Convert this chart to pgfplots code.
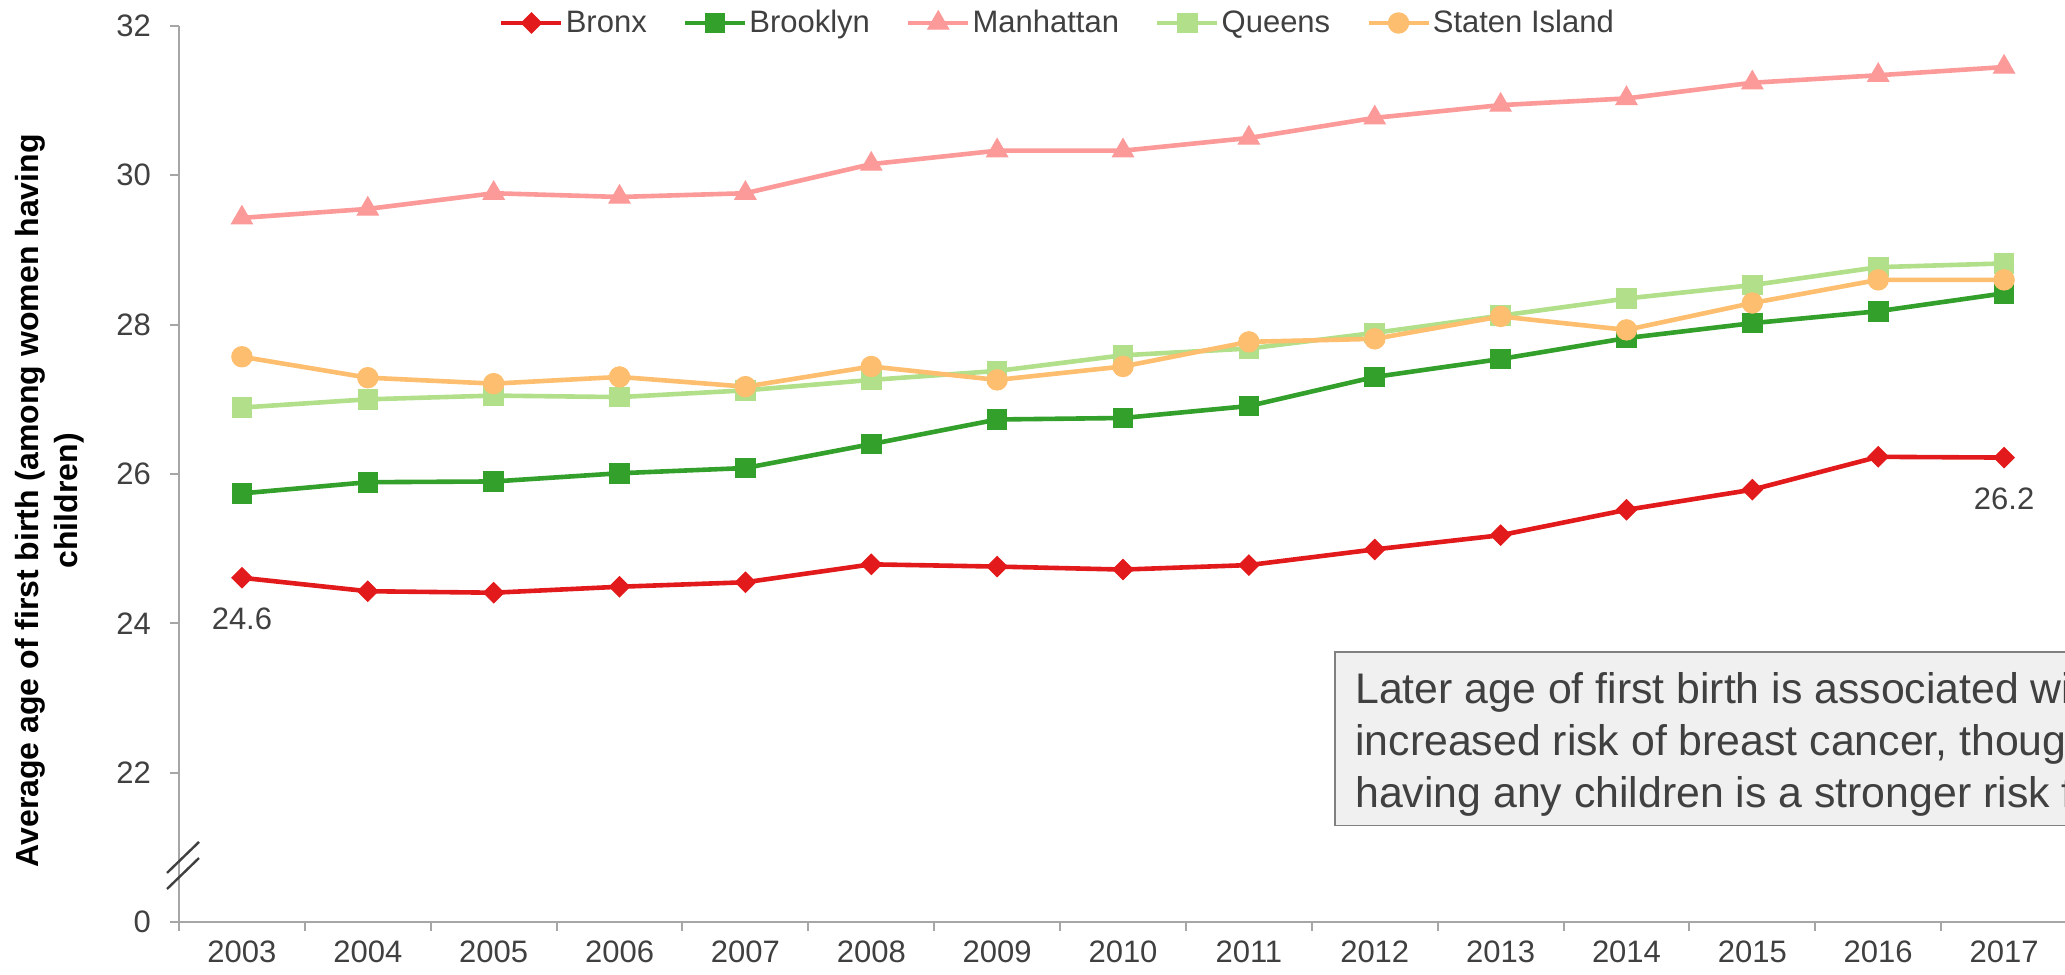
\documentclass[border=0pt]{standalone}
\usepackage{fontspec}
\setmainfont{Liberation Sans}
\usepackage{pgfplots}
\pgfplotsset{compat=1.18}
\definecolor{bronx}{HTML}{E31A1C}
\definecolor{brooklyn}{HTML}{33A02C}
\definecolor{manhattan}{HTML}{FB9A99}
\definecolor{queens}{HTML}{B2DF8A}
\definecolor{staten}{HTML}{FDBF6F}
\definecolor{txt}{HTML}{404040}
\definecolor{axisgray}{HTML}{A6A6A6}
\definecolor{boxfill}{HTML}{F0F0F0}
\definecolor{boxline}{HTML}{808080}
\newcommand{\ticksize}{\fontsize{15.5}{18.6}\selectfont}
\begin{document}
\begin{tikzpicture}
\begin{axis}[
  scale only axis, width=944pt, height=448pt,
  xmin=-0.5, xmax=14.5, ymin=20, ymax=32,
  axis x line*=bottom, axis y line*=left,
  axis line style={axisgray, line width=1pt, -},
  xtick={-0.5,0.5,1.5,2.5,3.5,4.5,5.5,6.5,7.5,8.5,9.5,10.5,11.5,12.5,13.5,14.5},
  xticklabels={2003,2004,2005,2006,2007,2008,2009,2010,2011,2012,2013,2014,2015,2016,2017,{}},
  xticklabel style={xshift=31.47pt, yshift=-1.5pt},
  yticklabel style={xshift=-6pt},
  ytick={20,22,24,26,28,30,32},
  yticklabels={0,22,24,26,28,30,32},
  tick align=outside, major tick length=4.5pt,
  tick style={axisgray, line width=1pt},
  ticklabel style={font=\ticksize, text=txt},
  clip=false,
  legend columns=-1,
  legend style={at={(0.4653,1)}, anchor=center, yshift=1.5pt, draw=none, fill=none,
    font=\ticksize, text=txt, nodes={inner xsep=1pt},
    /tikz/every even column/.append style={column sep=17pt}},
  legend image code/.code={\draw[mark repeat=2,mark phase=2,#1] plot coordinates {(0pt,0pt) (15pt,0pt) (30pt,0pt)};},
  ylabel={Average age of first birth (among women having\\children)},
  every axis y label/.style={at={(rel axis cs:0,0.47)}, xshift=-64.5pt, rotate=90, anchor=center,
    font=\bfseries\fontsize{16}{19.5}\selectfont, align=center, text=black},
]
\addplot[bronx, line width=2.3pt, mark=square*, mark size=3.6pt, mark options={rotate=45, solid, line width=0.5pt}]
  coordinates {(0,24.61)(1,24.43)(2,24.41)(3,24.49)(4,24.55)(5,24.79)(6,24.76)(7,24.72)(8,24.78)(9,24.99)(10,25.18)(11,25.52)(12,25.79)(13,26.23)(14,26.22)};
\addlegendentry{Bronx}
\addplot[brooklyn, line width=2.3pt, mark=square*, mark size=4.9pt, mark options={solid, line width=0.5pt}]
  coordinates {(0,25.74)(1,25.89)(2,25.90)(3,26.01)(4,26.08)(5,26.40)(6,26.73)(7,26.75)(8,26.91)(9,27.30)(10,27.54)(11,27.82)(12,28.02)(13,28.18)(14,28.42)};
\addlegendentry{Brooklyn}
\addplot[manhattan, line width=2.3pt, mark=triangle*, mark size=6.1pt, mark options={solid, line width=0.5pt}]
  coordinates {(0,29.43)(1,29.55)(2,29.76)(3,29.71)(4,29.76)(5,30.15)(6,30.33)(7,30.33)(8,30.50)(9,30.77)(10,30.94)(11,31.03)(12,31.24)(13,31.34)(14,31.45)};
\addlegendentry{Manhattan}
\addplot[queens, line width=2.3pt, mark=square*, mark size=4.9pt, mark options={solid, line width=0.5pt}]
  coordinates {(0,26.89)(1,27.00)(2,27.05)(3,27.03)(4,27.12)(5,27.26)(6,27.38)(7,27.59)(8,27.68)(9,27.89)(10,28.12)(11,28.35)(12,28.53)(13,28.77)(14,28.82)};
\addlegendentry{Queens}
\addplot[staten, line width=2.3pt, mark=*, mark size=5.1pt, mark options={solid, line width=0.5pt}]
  coordinates {(0,27.57)(1,27.29)(2,27.21)(3,27.30)(4,27.17)(5,27.44)(6,27.26)(7,27.44)(8,27.77)(9,27.81)(10,28.11)(11,27.93)(12,28.29)(13,28.60)(14,28.60)};
\addlegendentry{Staten Island}
% data labels
\node[font=\ticksize, text=txt] at ([yshift=-20.5pt]axis cs:0,24.61) {24.6};
\node[font=\ticksize, text=txt] at ([yshift=-20.5pt]axis cs:14,26.22) {26.2};
% axis break marks
\draw[txt, line width=1.2pt] ([xshift=-6pt]axis cs:-0.5,20.657) -- ([xshift=10pt]axis cs:-0.5,21.072);
\draw[txt, line width=1.2pt] ([xshift=-6pt]axis cs:-0.5,20.442) -- ([xshift=10pt]axis cs:-0.5,20.857);
% annotation box
\draw[boxline, fill=boxfill, line width=0.8pt] (axis cs:8.684,23.62) rectangle (axis cs:16.5,21.29);
\coordinate (tl) at (axis cs:8.684,23.62);
\node[anchor=base west, inner sep=0pt, text=txt, font=\fontsize{21.4}{26}\selectfont] at ([xshift=10pt,yshift=-26pt]tl) {Later age of first birth is associated with};
\node[anchor=base west, inner sep=0pt, text=txt, font=\fontsize{21.4}{26}\selectfont] at ([xshift=10pt,yshift=-52pt]tl) {increased risk of breast cancer, though not};
\node[anchor=base west, inner sep=0pt, text=txt, font=\fontsize{21.4}{26}\selectfont] at ([xshift=10pt,yshift=-78pt]tl) {having any children is a stronger risk factor};
\coordinate (ll) at (rel axis cs:0,0);
\coordinate (ur) at (rel axis cs:1,1);
\end{axis}
\pgfresetboundingbox
\path ([shift={(-89.5pt,-26pt)}]ll) rectangle ([shift={(-1pt,13pt)}]ur);
\end{tikzpicture}
\end{document}
